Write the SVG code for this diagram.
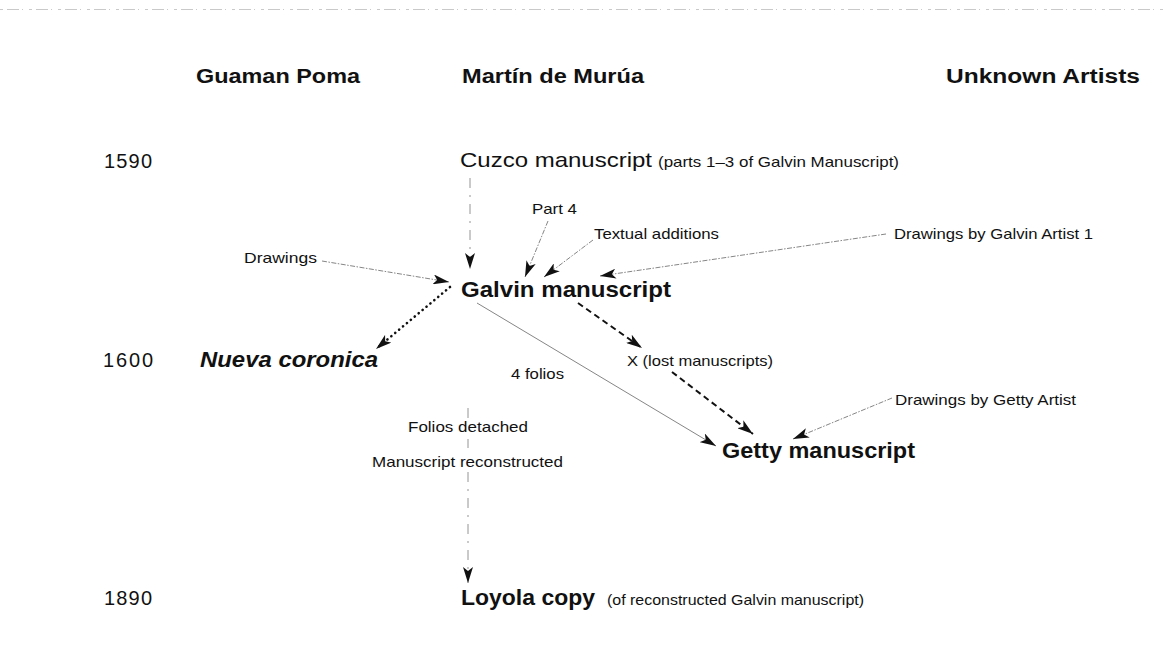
<svg xmlns="http://www.w3.org/2000/svg" width="1166" height="655" viewBox="0 0 1166 655">
<style>
text{font-family:"Liberation Sans",Arial,Helvetica,sans-serif;fill:#111}
.hd{font-size:20px;font-weight:bold}
.yr{font-size:20px}
.big{font-size:21px}
.bold{font-size:22px;font-weight:bold}
.sm{font-size:15px}
.thin{fill:none;stroke:#777;stroke-width:0.9;stroke-dasharray:5 1.5 1.5 1.5}
.solid{fill:none;stroke:#777;stroke-width:0.9}
.vert{fill:none;stroke:#888;stroke-width:0.9;stroke-dasharray:10 7 2 7}
.dash{fill:none;stroke:#111;stroke-width:2;stroke-dasharray:6 4}
.dot{fill:none;stroke:#111;stroke-width:2.6;stroke-dasharray:0.1 5;stroke-linecap:round}
</style>
<defs>
<marker id="ah" viewBox="0 0 16 10" refX="16" refY="5" markerWidth="16" markerHeight="10" markerUnits="userSpaceOnUse" orient="auto">
<path d="M0,0 L16,5 L0,10 L4,5 z" fill="#111"/>
</marker>
</defs>
<rect width="1166" height="655" fill="#fff"/>
<line x1="0" y1="9.5" x2="1166" y2="9.5" stroke="#bbb" stroke-width="0.8" stroke-dasharray="3 4 12 3 1 6"/>
<g id="headers">
<text class="hd" x="196" y="83" textLength="164" lengthAdjust="spacingAndGlyphs">Guaman Poma</text>
<text class="hd" x="462" y="83" textLength="182" lengthAdjust="spacingAndGlyphs">Martín de Murúa</text>
<text class="hd" x="946" y="83" textLength="194" lengthAdjust="spacingAndGlyphs">Unknown Artists</text>
</g>
<g id="years">
<text class="yr" x="104" y="168" textLength="48">1590</text>
<text class="yr" x="103" y="367" textLength="50">1600</text>
<text class="yr" x="104" y="605" textLength="48">1890</text>
</g>
<g id="connectors">
<path class="vert" d="M470,178 L470,269" marker-end="url(#ah)"/>
<path class="thin" d="M548,221 L525,277" marker-end="url(#ah)"/>
<path class="thin" d="M593,240 L544,277" marker-end="url(#ah)"/>
<path class="thin" d="M886,234 L600,276" marker-end="url(#ah)"/>
<path class="thin" d="M322,261 L449,282" marker-end="url(#ah)"/>
<path class="dot" d="M450,287 L376,349" marker-end="url(#ah)"/>
<path class="solid" d="M477,303 L716,446" marker-end="url(#ah)"/>
<path class="dash" d="M578,303 L642,348" marker-end="url(#ah)"/>
<path class="dash" d="M672,372 L753,434" marker-end="url(#ah)"/>
<path class="thin" d="M892,398 L793,439" marker-end="url(#ah)"/>
<path class="vert" d="M468,408 L468,418 M468,439 L468,448"/>
<path class="vert" d="M468,472 L468,583" marker-end="url(#ah)"/>
</g>
<g id="cuzco">
<text class="big" x="460" y="167" textLength="192" lengthAdjust="spacingAndGlyphs">Cuzco manuscript</text>
<text class="sm" x="658" y="167" textLength="241" lengthAdjust="spacingAndGlyphs">(parts 1–3 of Galvin Manuscript)</text>
</g>
<g id="part4"><text class="sm" x="532" y="214" textLength="45" lengthAdjust="spacingAndGlyphs">Part  4</text></g>
<g id="textual"><text class="sm" x="594" y="239" textLength="125" lengthAdjust="spacingAndGlyphs">Textual additions</text></g>
<g id="galvinartist"><text class="sm" x="894" y="239" textLength="199" lengthAdjust="spacingAndGlyphs">Drawings by Galvin Artist 1</text></g>
<g id="drawings"><text class="sm" x="244" y="263" textLength="73" lengthAdjust="spacingAndGlyphs">Drawings</text></g>
<g id="galvin"><text class="bold" x="461" y="297" textLength="210" lengthAdjust="spacingAndGlyphs">Galvin manuscript</text></g>
<g id="nueva"><text class="bold" x="200" y="367" font-style="italic" textLength="178" lengthAdjust="spacingAndGlyphs">Nueva coronica</text></g>
<g id="folios4"><text class="sm" x="511" y="379" textLength="53" lengthAdjust="spacingAndGlyphs">4 folios</text></g>
<g id="lost"><text class="sm" x="627" y="366" textLength="146" lengthAdjust="spacingAndGlyphs">X (lost manuscripts)</text></g>
<g id="gettyartist"><text class="sm" x="895" y="405" textLength="181" lengthAdjust="spacingAndGlyphs">Drawings by Getty Artist</text></g>
<g id="getty"><text class="bold" x="722" y="458" textLength="193" lengthAdjust="spacingAndGlyphs">Getty manuscript</text></g>
<g id="detached"><text class="sm" x="408" y="432" textLength="120" lengthAdjust="spacingAndGlyphs">Folios detached</text></g>
<g id="reconstructed"><text class="sm" x="372" y="467" textLength="191" lengthAdjust="spacingAndGlyphs">Manuscript reconstructed</text></g>
<g id="loyola">
<text class="bold" x="461" y="605" textLength="134" lengthAdjust="spacingAndGlyphs">Loyola copy</text>
<text class="sm" x="607" y="605" textLength="257" lengthAdjust="spacingAndGlyphs">(of reconstructed Galvin manuscript)</text>
</g>
</svg>
